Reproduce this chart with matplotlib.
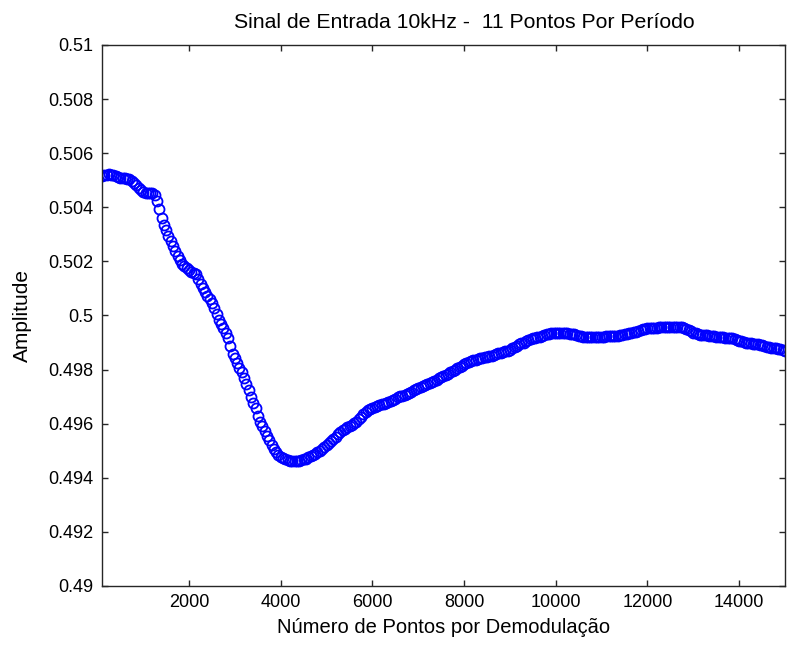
import numpy as np
import matplotlib.pyplot as plt

plt.rcParams['font.family'] = ['Liberation Sans', 'DejaVu Sans']

# Demodulated amplitude, one value every 50 points (100 ... 15000)
n_pontos = np.arange(100, 15001, 50)
amplitude = [
    0.50515, 0.50518, 0.50520, 0.50522, 0.50521, 0.50519, 0.50516, 0.50512, 0.50510, 0.50509,
    0.50508, 0.50506, 0.50504, 0.50498, 0.50490, 0.50481, 0.50472, 0.50463, 0.50457, 0.50454,
    0.50452, 0.50453, 0.50452, 0.50444, 0.50425, 0.50395, 0.50362, 0.50336, 0.50315, 0.50294,
    0.50276, 0.50258, 0.50237, 0.50220, 0.50205, 0.50192, 0.50182, 0.50175, 0.50168, 0.50162,
    0.50158, 0.50152, 0.50135, 0.50115, 0.50100, 0.50085, 0.50072, 0.50060, 0.50046, 0.50028,
    0.50006, 0.49985, 0.49968, 0.49952, 0.49937, 0.49915, 0.49888, 0.49858, 0.49842, 0.49825,
    0.49806, 0.49790, 0.49770, 0.49748, 0.49724, 0.49700, 0.49678, 0.49658, 0.49630, 0.49608,
    0.49592, 0.49574, 0.49556, 0.49539, 0.49522, 0.49508, 0.49496, 0.49486, 0.49478, 0.49472,
    0.49468, 0.49465, 0.49463, 0.49462, 0.49461, 0.49462, 0.49463, 0.49465, 0.49468, 0.49471,
    0.49475, 0.49479, 0.49484, 0.49489, 0.49494, 0.49499, 0.49505, 0.49512, 0.49520, 0.49528,
    0.49536, 0.49544, 0.49552, 0.49560, 0.49568, 0.49575, 0.49582, 0.49588, 0.49590, 0.49596,
    0.49602, 0.49608, 0.49616, 0.49626, 0.49636, 0.49644, 0.49650, 0.49654, 0.49658, 0.49662,
    0.49665, 0.49668, 0.49671, 0.49674, 0.49677, 0.49680, 0.49684, 0.49688, 0.49693, 0.49697,
    0.49701, 0.49704, 0.49707, 0.49710, 0.49714, 0.49718, 0.49723, 0.49727, 0.49731, 0.49735,
    0.49739, 0.49743, 0.49747, 0.49751, 0.49755, 0.49759, 0.49763, 0.49767, 0.49771, 0.49776,
    0.49780, 0.49785, 0.49790, 0.49795, 0.49800, 0.49805, 0.49810, 0.49815, 0.49820, 0.49824,
    0.49828, 0.49832, 0.49835, 0.49837, 0.49839, 0.49841, 0.49843, 0.49845, 0.49847, 0.49849,
    0.49851, 0.49854, 0.49857, 0.49860, 0.49863, 0.49866, 0.49868, 0.49870, 0.49873, 0.49878,
    0.49883, 0.49888, 0.49893, 0.49897, 0.49900, 0.49904, 0.49908, 0.49912, 0.49915, 0.49917,
    0.49919, 0.49922, 0.49925, 0.49928, 0.49931, 0.49933, 0.49935, 0.49936, 0.49936, 0.49936,
    0.49935, 0.49935, 0.49934, 0.49934, 0.49933, 0.49932, 0.49930, 0.49928, 0.49925, 0.49923,
    0.49922, 0.49921, 0.49921, 0.49921, 0.49921, 0.49921, 0.49921, 0.49922, 0.49922, 0.49922,
    0.49923, 0.49923, 0.49923, 0.49924, 0.49924, 0.49925, 0.49926, 0.49928, 0.49930, 0.49932,
    0.49934, 0.49936, 0.49938, 0.49940, 0.49943, 0.49946, 0.49949, 0.49951, 0.49952, 0.49953,
    0.49954, 0.49955, 0.49955, 0.49956, 0.49956, 0.49957, 0.49957, 0.49957, 0.49957, 0.49958,
    0.49958, 0.49958, 0.49957, 0.49956, 0.49953, 0.49949, 0.49945, 0.49941, 0.49937, 0.49934,
    0.49931, 0.49929, 0.49928, 0.49927, 0.49926, 0.49925, 0.49924, 0.49923, 0.49922, 0.49921,
    0.49920, 0.49919, 0.49918, 0.49917, 0.49916, 0.49915, 0.49913, 0.49910, 0.49907, 0.49904,
    0.49901, 0.49899, 0.49898, 0.49897, 0.49896, 0.49895, 0.49893, 0.49891, 0.49889, 0.49887,
    0.49885, 0.49883, 0.49881, 0.49879, 0.49878, 0.49877, 0.49876, 0.49874, 0.49870,
]

x_ticks = [2000, 4000, 6000, 8000, 10000, 12000, 14000]
y_ticks = [0.49, 0.492, 0.494, 0.496, 0.498, 0.5, 0.502, 0.504, 0.506, 0.508, 0.51]
y_tick_labels = ['0.49', '0.492', '0.494', '0.496', '0.498', '0.5',
                 '0.502', '0.504', '0.506', '0.508', '0.51']

fig = plt.figure(figsize=(7.88, 6.45), dpi=100)
ax = fig.add_axes([0.1294, 0.0915, 0.8668, 0.8388])

ax.plot(n_pontos, amplitude, linestyle='none', marker='o', markersize=7.2,
        markerfacecolor='none', markeredgecolor='#0000ff', markeredgewidth=1.3)

ax.set_xlim(100, 15000)
ax.set_ylim(0.49, 0.51)
ax.set_xticks(x_ticks)
ax.set_xticklabels([str(t) for t in x_ticks])
ax.set_yticks(y_ticks)
ax.set_yticklabels(y_tick_labels)

ax.tick_params(direction='in', length=4, width=1, top=True, right=True,
               labelsize=13, pad=6, colors='#262626', labelcolor='black')
for sp in ax.spines.values():
    sp.set_linewidth(1.0)
    sp.set_color('#262626')

ax.set_title('Sinal de Entrada 10kHz -  11 Pontos Por Período', fontsize=15.3,
             pad=12, x=0.53)
ax.set_xlabel('Número de Pontos por Demodulação', fontsize=14.5, labelpad=5)
ax.set_ylabel('Amplitude', fontsize=15, labelpad=12)

fig.savefig('out.png', dpi=100)
